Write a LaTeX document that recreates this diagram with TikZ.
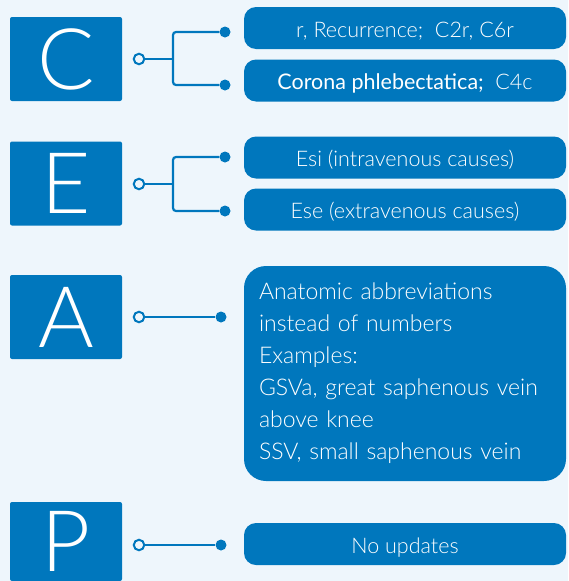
\documentclass[tikz,border=0pt]{standalone}
\usepackage{xcolor}
\usepackage{fontspec}
\IfFontExistsTF{Lato Light}{\setmainfont{Lato Light}}{\setmainfont{Lato}}
\newfontfamily\medfont{Lato}
\definecolor{ceapblue}{RGB}{0,119,189}
\definecolor{ceapbg}{RGB}{238,246,252}
\tikzset{
  letterbox/.style={fill=ceapblue, rounded corners=2pt, minimum width=112pt, minimum height=84pt, inner sep=0pt, text=white, font=\fontsize{85}{85}\selectfont},
  itembox/.style={fill=ceapblue, rounded corners=12pt, minimum width=322pt, minimum height=42pt, inner sep=0pt, text=white, text height=18.5pt, text depth=0pt, font=\fontsize{21.5}{25}\selectfont},
  bigbox/.style={fill=ceapblue, rounded corners=22pt, minimum width=322pt, minimum height=215pt, text width=292pt, inner xsep=15pt, inner ysep=0pt, align=left, text=white, font=\fontsize{23}{32}\selectfont},
  link/.style={draw=ceapblue, line width=2.2pt, rounded corners=3pt},
  opendot/.style={circle, draw=ceapblue, fill=ceapbg, line width=2pt, minimum size=10.5pt, inner sep=0pt},
  enddot/.style={circle, fill=ceapblue, minimum size=11pt, inner sep=0pt}
}
\begin{document}
\begin{tikzpicture}[x=1pt,y=-1pt]
\useasboundingbox (0,0) rectangle (568,581);
\fill[ceapbg] (0,0) rectangle (568,581);
% C
\node[letterbox] (c) at (66,59) {C};
\node[opendot] (co) at (139,59) {};
\coordinate (cj) at (173,59);
\node[enddot] (cd1) at (225,32) {};
\node[enddot] (cd2) at (225,85) {};
\node[itembox] (c1) at (405,28) {r, Recurrence;\ \ C2r, C6r};
\node[itembox] (c2) at (405,80.5) {{\medfont Corona phlebectatica;}\ \ C4c};
\draw[link] (cd1) -| (cj) |- (cd2);
\draw[link] (co) -- (cj);
% E
\node[letterbox] (e) at (66,183.5) {E};
\node[opendot] (eo) at (139,184) {};
\coordinate (ej) at (173,184);
\node[enddot] (ed1) at (225,157) {};
\node[enddot] (ed2) at (225,211) {};
\node[itembox] (e1) at (405,157.5) {Esi (intravenous causes)};
\node[itembox] (e2) at (405,209.5) {Ese (extravenous causes)};
\draw[link] (ed1) -| (ej) |- (ed2);
\draw[link] (eo) -- (ej);
% A
\node[letterbox] (a) at (66,317) {A};
\node[opendot] (ao) at (139,317) {};
\node[enddot] (ad) at (221,317) {};
\node[bigbox] (a1) at (405,373.5) {Anatomic abbreviations\\instead of numbers\\Examples:\\GSVa, great saphenous vein\\above knee\\SSV, small saphenous vein};
\draw[link] (ao) -- (ad);
% P (box runs off the bottom edge)
\node[letterbox, minimum height=79pt] (p) at (66,541.5) {P};
\node[opendot] (po) at (139,545) {};
\node[enddot] (pd) at (221,545) {};
\node[itembox] (p1) at (405,544) {No updates};
\draw[link] (po) -- (pd);
\end{tikzpicture}
\end{document}
